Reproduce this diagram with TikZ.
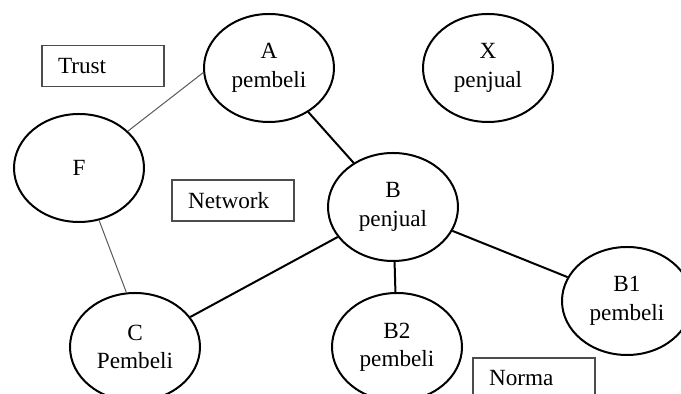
\documentclass[tikz,border=0pt]{standalone}
\usepackage{fontspec}
\setmainfont{Liberation Serif}
\usetikzlibrary{shapes.geometric}

\begin{document}
\begin{tikzpicture}[x=0.5pt,y=-0.5pt]
  \useasboundingbox (0,0) rectangle (681,394);
  \clip (0,0) rectangle (681,394);

  \tikzstyle{actor}=[ellipse,draw,line width=1pt,minimum width=65pt,minimum height=54pt,inner sep=0pt,align=center,font=\fontsize{11.6}{14.2}\selectfont];
  \tikzstyle{tag}=[rectangle,draw=black!70,line width=0.6pt,text width=45pt,inner xsep=8pt,minimum height=20.5pt,align=left,font=\fontsize{11.6}{14.2}\selectfont];
  \tikzstyle{tie}=[line width=1pt];
  \tikzstyle{weak tie}=[line width=0.5pt,black!65];

  \node (trust) at (103, 66) [tag]{Trust};
  \node (network) at (233, 200.5) [tag]{Network};
  \node (norma) at (534, 378.5) [tag]{Norma};

  \node (A) at (269, 68) [actor]{A\\pembeli};
  \node (X) at (488, 68) [actor]{X\\penjual};
  \node (F) at (79, 168) [actor]{F};
  \node (B) at (393, 207) [actor]{B\\penjual};
  \node (C) at (135, 347) [actor]{C\\Pembeli};
  \node (B2) at (397, 347) [actor]{B2\\pembeli};
  \node (B1) at (627, 301) [actor]{B1\\pembeli};

  \draw[weak tie] (A.184) -- (F.37);
  \draw[weak tie] (F.-69) -- (C.99);

  \draw[tie] (A) -- (B);
  \draw[tie] (B) -- (C);
  \draw[tie] (B) -- (B2);
  \draw[tie] (B) -- (B1);

\end{tikzpicture}
\end{document}
